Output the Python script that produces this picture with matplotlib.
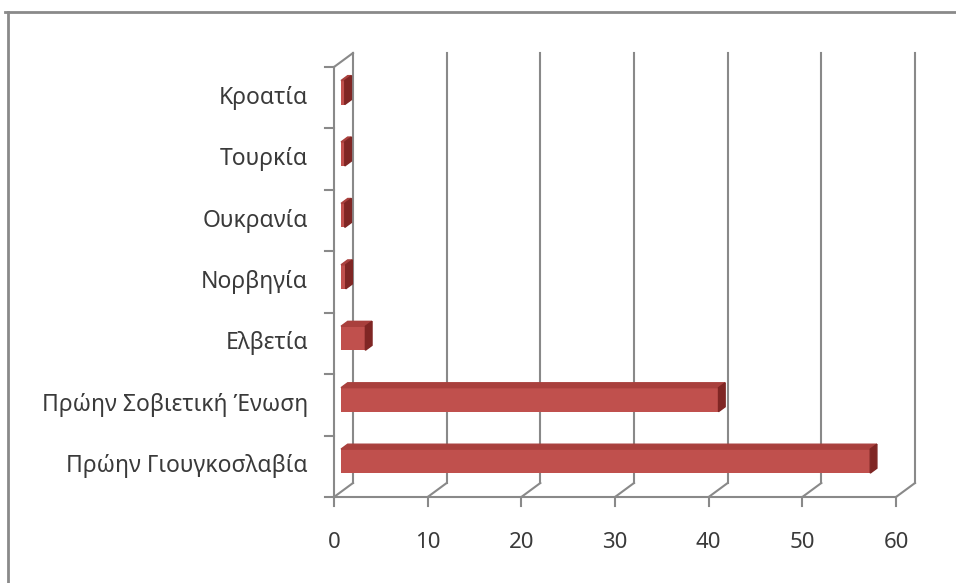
import numpy as np
import matplotlib.pyplot as plt
from matplotlib.patches import Polygon
from matplotlib.lines import Line2D

plt.rcParams['font.family'] = ['Noto Sans', 'DejaVu Sans']

countries = ['Πρώην Γιουγκοσλαβία', 'Πρώην Σοβιετική Ένωση', 'Ελβετία',
             'Νορβηγία', 'Ουκρανία', 'Τουρκία', 'Κροατία']
values = [56.5, 40.3, 2.6, 0.5, 0.4, 0.4, 0.4]
x_ticks = [0, 10, 20, 30, 40, 50, 60]

W, H = 956, 583
fig = plt.figure(figsize=(W / 100, H / 100), dpi=100)
ax = fig.add_axes([334 / W, (H - 497) / H, (896 - 334) / W, (497 - 67) / H])
ax.set_xlim(0, 60)
ax.set_ylim(0, len(countries))
ax.axis('off')

# depth of the 3d box, in data units
px_x = (896 - 334) / 60.0
px_y = (497 - 67) / len(countries)
DX = 19 / px_x
DY = 14 / px_y
f_d, b_d = 0.37, 0.72      # bar front / back depth fraction
bar_h = 24 / px_y

grid = '#898989'
txt = '#3a3a3a'
lw = 1.5
ymax = len(countries)

# back wall gridlines + floor diagonals + bottom ticks
for t in x_ticks:
    ax.plot([t + DX, t + DX], [DY, ymax + DY], color=grid, lw=lw, clip_on=False, zorder=1)
    ax.plot([t, t + DX], [0, DY], color=grid, lw=lw, clip_on=False, zorder=1)
    ax.plot([t, t], [0, -9 / px_y], color=grid, lw=lw, clip_on=False, zorder=1)
    ax.annotate(str(t), xy=(t, 0), xytext=(0, -46), textcoords='offset pixels',
                ha='center', va='center', fontsize=16, color=txt)

# left wall
ax.plot([0, 0], [0, ymax], color=grid, lw=lw, clip_on=False, zorder=1)
ax.plot([0, DX], [ymax, ymax + DY], color=grid, lw=lw, clip_on=False, zorder=1)
ax.plot([0, 60], [0, 0], color=grid, lw=lw, clip_on=False, zorder=1)
for k in range(ymax + 1):
    ax.plot([-9 / px_x, 0], [k, k], color=grid, lw=lw, clip_on=False, zorder=1)

# bars
front_c = '#C0504D'
top_c = '#A9403D'
side_c = '#7F2624'
for i, (name, v) in enumerate(zip(countries, values)):
    c = i + 0.5 + f_d * DY
    x0 = f_d * DX
    ax.barh(c, v, left=x0, height=bar_h, color=front_c, zorder=3, clip_on=False)
    top = c + bar_h / 2
    bot = c - bar_h / 2
    ddx = (b_d - f_d) * DX
    ddy = (b_d - f_d) * DY
    ax.add_patch(Polygon([(x0, top), (x0 + v, top), (x0 + v + ddx, top + ddy), (x0 + ddx, top + ddy)],
                         closed=True, color=top_c, zorder=3, clip_on=False))
    ax.add_patch(Polygon([(x0 + v, bot), (x0 + v, top), (x0 + v + ddx, top + ddy), (x0 + v + ddx, bot + ddy)],
                         closed=True, color=side_c, zorder=3, clip_on=False))
    ax.annotate(name, xy=(0, i + 0.5), xytext=(-26, 0), textcoords='offset pixels',
                ha='right', va='center', fontsize=16.5, color=txt)

# outer frame (top and left only)
fig.add_artist(Line2D([5 / W, 1], [1 - 12 / H, 1 - 12 / H], color='#8a8a8a', lw=2))
fig.add_artist(Line2D([8 / W, 8 / W], [0, 1 - 12 / H], color='#8a8a8a', lw=2))

fig.savefig('out.png', dpi=100)
